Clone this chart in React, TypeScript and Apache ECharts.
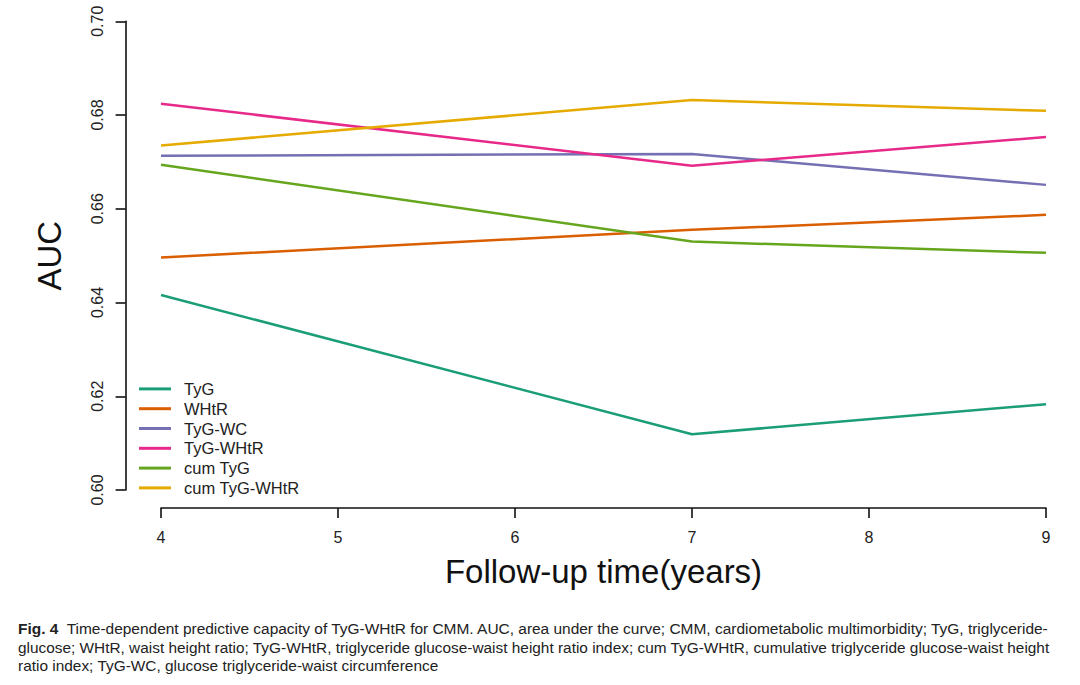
import { useEffect, useRef } from "react"
import * as echarts from "echarts"

const years = [4, 7, 9]
const seriesNames = ["TyG", "WHtR", "TyG-WC", "TyG-WHtR", "cum TyG", "cum TyG-WHtR"]
const colors = ["#1B9E77", "#D95F02", "#7570B3", "#E7298A", "#66A61E", "#E6AB02"]

const tyg = [0.6416, 0.6119, 0.6183]
const whtr = [0.6496, 0.6555, 0.6587]
const tygWc = [0.6713, 0.6717, 0.6651]
const tygWhtr = [0.6824, 0.6692, 0.6753]
const cumTyg = [0.6694, 0.653, 0.6506]
const cumTygWhtr = [0.6735, 0.6832, 0.6809]

const seriesValues = [tyg, whtr, tygWc, tygWhtr, cumTyg, cumTygWhtr]

const captionLines = [
  "Time-dependent predictive capacity of TyG-WHtR for CMM. AUC, area under the curve; CMM, cardiometabolic multimorbidity; TyG, triglyceride-",
  "glucose; WHtR, waist height ratio; TyG-WHtR, triglyceride glucose-waist height ratio index; cum TyG-WHtR, cumulative triglyceride glucose-waist height",
  "ratio index; TyG-WC, glucose triglyceride-waist circumference",
]
const figLabel = "Fig. 4"

const font = "Arial, 'Liberation Sans', Helvetica, sans-serif"
const capFont = "'Liberation Sans', Arial, sans-serif"

function measure(text: string, f: string) {
  const ctx = document.createElement("canvas").getContext("2d")
  if (!ctx) return text.length * 7
  ctx.font = f
  return ctx.measureText(text).width
}

export default function App() {
  const chartRef = useRef<HTMLDivElement>(null)

  useEffect(() => {
    document.body.style.margin = "0"
    if (!chartRef.current) return
    const chart = echarts.init(chartRef.current, null, { renderer: "svg" })

    const capSize = 15
    const w1 =
      measure(figLabel, `bold ${capSize}px ${capFont}`) +
      measure("  " + captionLines[0], `${capSize}px ${capFont}`)
    const w2 = measure(captionLines[1], `${capSize}px ${capFont}`)
    const s1 = 1032 / w1
    const s2 = 1032 / w2
    const s3 = (s1 + s2) / 2

    const option = {
      animation: false,
      backgroundColor: "#fff",
      grid: { left: 161, right: 34, top: 21.3, bottom: 195 },
      legend: {
        orient: "vertical",
        left: 134,
        top: 374,
        icon: "rect",
        itemWidth: 32,
        itemHeight: 3,
        itemGap: 0,
        textStyle: { fontFamily: font, fontSize: 16.5, color: "#222", lineHeight: 19.8, padding: [0, 0, 0, 8] },
        data: seriesNames,
      },
      xAxis: {
        type: "value",
        min: 4,
        max: 9,
        interval: 1,
        offset: 18,
        name: "Follow-up time(years)",
        nameLocation: "middle",
        nameGap: 47,
        nameTextStyle: { fontFamily: font, fontSize: 33, color: "#111" },
        axisLine: { show: true, lineStyle: { color: "#111", width: 1.6 } },
        axisTick: { show: true, length: 10, lineStyle: { color: "#111", width: 1.6 } },
        axisLabel: { fontFamily: font, fontSize: 16, color: "#222", margin: 21 },
        splitLine: { show: false },
      },
      yAxis: {
        type: "value",
        min: 0.6,
        max: 0.7,
        interval: 0.02,
        offset: 35.4,
        name: "AUC",
        nameLocation: "middle",
        nameRotate: 90,
        nameGap: 60,
        nameTextStyle: { fontFamily: font, fontSize: 33, color: "#111" },
        axisLine: { show: true, lineStyle: { color: "#111", width: 1.6 } },
        axisTick: { show: true, length: 10, lineStyle: { color: "#111", width: 1.6 } },
        axisLabel: {
          fontFamily: font,
          fontSize: 16,
          color: "#222",
          rotate: 90,
          margin: 20,
          formatter: (v: number) => v.toFixed(2),
        },
        splitLine: { show: false },
      },
      series: seriesNames.map((name, i) => ({
        name,
        type: "line",
        data: years.map((x, j) => [x, seriesValues[i][j]]),
        showSymbol: false,
        symbol: "none",
        color: colors[i],
        lineStyle: { color: colors[i], width: 2.5 },
      })),
      graphic: [
        {
          type: "text",
          x: 18,
          y: 621,
          scaleX: s1,
          style: {
            text: `{b|${figLabel}}  ${captionLines[0]}`,
            font: `${capSize}px ${capFont}`,
            fill: "#222",
            rich: { b: { fontWeight: "bold", fontSize: capSize, fontFamily: capFont, fill: "#222" } },
          },
        },
        {
          type: "text",
          x: 18,
          y: 640,
          scaleX: s2,
          style: { text: captionLines[1], font: `${capSize}px ${capFont}`, fill: "#222" },
        },
        {
          type: "text",
          x: 18,
          y: 658,
          scaleX: s3,
          style: { text: captionLines[2], font: `${capSize}px ${capFont}`, fill: "#222" },
        },
      ],
    }

    chart.setOption(option)
    return () => chart.dispose()
  }, [])

  return <div ref={chartRef} style={{ width: 1080, height: 685 }} />
}
